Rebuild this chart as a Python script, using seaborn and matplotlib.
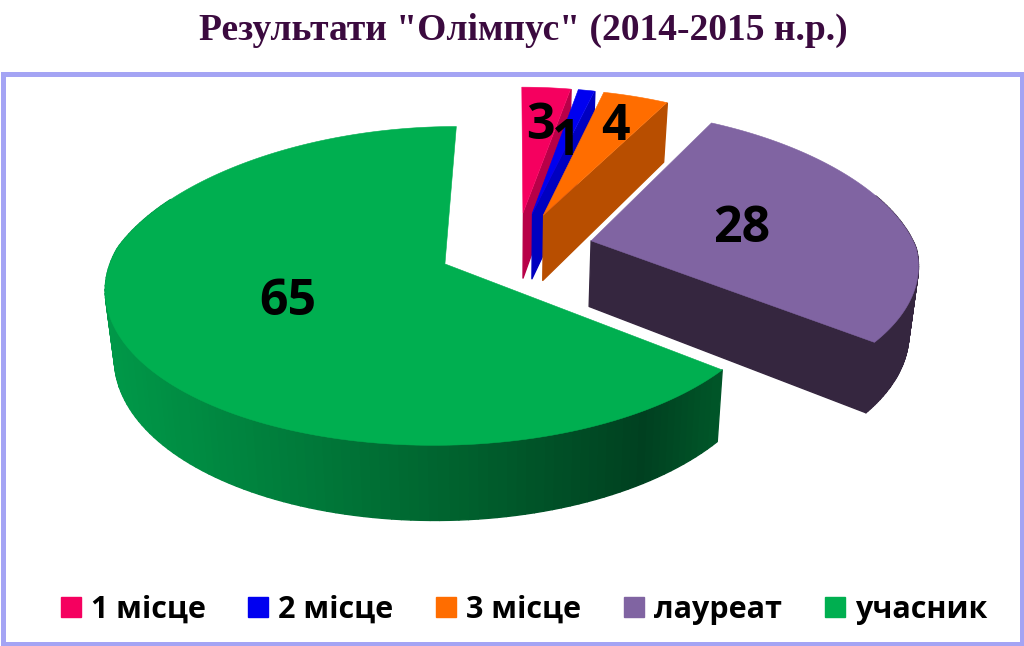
import numpy as np
import matplotlib
matplotlib.use('Agg')
import matplotlib.pyplot as plt
import matplotlib.patches as mpatches
from matplotlib.collections import PolyCollection
import seaborn as sns

title = 'Результати "Олімпус" (2014-2015 н.р.)'
categories = ['1 місце', '2 місце', '3 місце', 'лауреат', 'учасник']
values = [3, 1, 4, 28, 65]
top_colors = ['#F5005F', '#0000F0', '#FF6D00', '#8064A2', '#00AF50']
side_colors = ['#B80048', '#0000C0', '#B84E00', '#35263F', '#006A30']
label_radius = [0.69, 0.58, 0.75, 0.49, 0.50]

# projection of the flat pie to screen pixels
CX, CY = 516, 248
RY = 152
PERSP = 0.136
DEPTH = 66


def scale(v):
    return 1.0 / (1.0 + PERSP * v)


def top_xy(u, v):
    s = scale(v)
    rx = 327.5 - 2.5 * np.tanh(2 * u)
    return CX + rx * u * s * (1 - 0.05 * max(v, 0)), CY - RY * v * s


def bottom_xy(u, v):
    x, y = top_xy(u, v)
    return 505 + (x - 505) * 0.977, y + DEPTH * scale(v) ** 0.8


def green_shade(x):
    # side of the big slice goes dark towards the right
    xs = [110, 300, 450, 640, 712]
    gs = [0x98, 0x7A, 0x62, 0x40, 0x55]
    bs = [0x48, 0x3A, 0x2E, 0x20, 0x28]
    return (0, np.interp(x, xs, gs) / 255, np.interp(x, xs, bs) / 255)


sns.set_theme(style='white')
plt.rcParams['font.family'] = ['Open Sans', 'DejaVu Sans']

fig = plt.figure(figsize=(10.24, 6.46), dpi=100)
ax = fig.add_axes([0, 0, 1, 1])

wedges, _ = ax.pie(values, explode=[0.237] * len(values), startangle=90, counterclock=False,
                   colors=sns.color_palette(top_colors))
ax.set_aspect('auto')
ax.set_xlim(0, 1024)
ax.set_ylim(646, 0)
ax.axis('off')

for i, w in enumerate(wedges):
    cu, cv = w.center
    t = np.radians(np.linspace(w.theta1, w.theta2, 160))
    au, av = cu + np.cos(t), cv + np.sin(t)
    w.remove()

    # wall of the clockwise edge (only if it faces us), then the outer wall far to near
    quads = []
    cols = []
    if np.cos(t[0]) > 0.01:
        quads.append([top_xy(cu, cv), top_xy(au[0], av[0]), bottom_xy(au[0], av[0]), bottom_xy(cu, cv)])
        cols.append(side_colors[i])
    order = np.argsort(-av[:-1])
    for j in order:
        if av[j] > 0.35:  # back of the ring, not seen
            continue
        a = top_xy(au[j], av[j])
        b = top_xy(au[j + 1], av[j + 1])
        c = bottom_xy(au[j + 1], av[j + 1])
        d = bottom_xy(au[j], av[j])
        quads.append([a, b, c, d])
        cols.append(green_shade(a[0]) if i == 4 else side_colors[i])
    ax.add_collection(PolyCollection(quads, facecolors=cols, edgecolors=cols, linewidths=1.0,
                                     zorder=2 + i * 0.1))

    top = [top_xy(cu, cv)] + [top_xy(p, q) for p, q in zip(au, av)]
    ax.add_patch(mpatches.Polygon(top, closed=True, facecolor=top_colors[i], edgecolor=top_colors[i],
                                  linewidth=0.4, zorder=2.05 + i * 0.1))

    mid = np.radians((w.theta1 + w.theta2) / 2)
    lx, ly = top_xy(cu + label_radius[i] * np.cos(mid), cv + label_radius[i] * np.sin(mid))
    ax.text(lx, ly + 3, str(values[i]), fontsize=36, fontweight='bold', color='black',
            ha='center', va='center', zorder=5)

# frame round the chart
ax.add_patch(mpatches.Rectangle((2.5, 74), 1019.5, 569.5, fill=False, edgecolor='#A4A4F4',
                                linewidth=3.6, zorder=6))

fig.text(523 / 1024, 1 - 30 / 646, title, family='Liberation Serif', fontweight='bold', fontsize=27,
         color='#3B0A3F', ha='center', va='center')

handles = [mpatches.Patch(facecolor=c, edgecolor=c, label=n) for c, n in zip(top_colors, categories)]
ax.legend(handles=handles, ncol=5, loc='center', bbox_to_anchor=(524 / 1024, 1 - 610 / 646),
          frameon=False, handlelength=0.65, handleheight=0.65, handletextpad=0.33,
          columnspacing=1.4, labelcolor='black',
          prop={'family': ['Open Sans', 'DejaVu Sans'], 'weight': 'bold', 'size': 22})

fig.savefig('out.png', dpi=100, facecolor='white')
